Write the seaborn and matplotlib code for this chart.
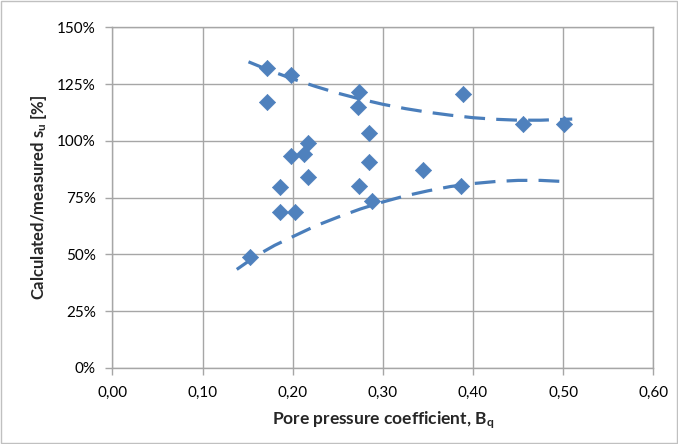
import matplotlib
matplotlib.use("Agg")
import matplotlib.pyplot as plt
import matplotlib.patches as mpatches
from matplotlib.ticker import FixedLocator, FuncFormatter
import seaborn as sns
import pandas as pd

# Measured points: pore pressure coefficient Bq and calculated/measured su [%]
bq = [0.171, 0.198, 0.171, 0.273, 0.272, 0.285, 0.217, 0.198, 0.213, 0.285, 0.217,
      0.186, 0.274, 0.288, 0.186, 0.203, 0.389, 0.455, 0.501, 0.344, 0.387, 0.153]
ratio = [131.9, 129.0, 117.2, 121.6, 114.9, 103.4, 98.9, 93.4, 94.2, 90.7, 84.1,
         79.8, 80.1, 73.6, 68.5, 68.5, 120.5, 107.5, 107.5, 87.0, 80.2, 48.7]

# Upper envelope (dashed)
upper_x = [0.151, 0.175, 0.20, 0.225, 0.25, 0.275, 0.30, 0.325, 0.35, 0.375, 0.40, 0.425, 0.45, 0.475, 0.51]
upper_y = [134.8, 130.9, 127.3, 124.0, 121.0, 118.4, 116.1, 114.2, 112.6, 111.3, 110.2, 109.5, 109.1, 109.1, 109.6]

# Lower envelope (dashed)
lower_x = [0.138, 0.16, 0.18, 0.20, 0.225, 0.25, 0.275, 0.30, 0.325, 0.35, 0.375, 0.40, 0.425, 0.45, 0.475, 0.506]
lower_y = [43.4, 49.5, 54.0, 57.8, 62.5, 66.4, 70.0, 73.1, 75.8, 78.0, 79.9, 81.2, 82.1, 82.6, 82.6, 82.0]

x_ticks = [0.0, 0.1, 0.2, 0.3, 0.4, 0.5, 0.6]
y_ticks = [0, 25, 50, 75, 100, 125, 150]

sns.set_theme(style="white")
plt.rcParams["font.family"] = ["Lato", "DejaVu Sans"]
plt.rcParams["mathtext.fontset"] = "custom"
plt.rcParams["mathtext.rm"] = "Lato:bold"
plt.rcParams["mathtext.default"] = "rm"

fig = plt.figure(figsize=(6.78, 4.44), dpi=100)
ax = fig.add_axes([0.1657, 0.1712, 0.798, 0.7673])

blue = "#4a7ebb"
grid_c = "#a6a6a6"

pts = pd.DataFrame({"bq": bq, "ratio": ratio})
up = pd.DataFrame({"x": upper_x, "y": upper_y})
lo = pd.DataFrame({"x": lower_x, "y": lower_y})

for df in (up, lo):
    sns.lineplot(data=df, x="x", y="y", ax=ax, color=blue, lw=2.3,
                 sort=False, estimator=None, zorder=3)
for line in ax.lines:
    line.set_dashes([6.5, 3.5])

sns.scatterplot(data=pts, x="bq", y="ratio", ax=ax, marker="D", s=68,
                color="#4f81bd", edgecolor="#4f81bd", linewidth=0.5, zorder=4)

ax.set_xlim(0, 0.6)
ax.set_ylim(0, 150)
ax.xaxis.set_major_locator(FixedLocator(x_ticks))
ax.yaxis.set_major_locator(FixedLocator(y_ticks))
ax.xaxis.set_major_formatter(FuncFormatter(lambda v, p: f"{v:.2f}".replace(".", ",")))
ax.yaxis.set_major_formatter(FuncFormatter(lambda v, p: f"{v:.0f}%"))
ax.grid(True, color=grid_c, lw=1)
ax.set_axisbelow(True)
for s in ax.spines.values():
    s.set_color(grid_c)
    s.set_linewidth(1)
ax.tick_params(axis="both", which="major", length=5, width=1, color=grid_c,
               labelsize=11, labelcolor="#000000", direction="out",
               left=True, bottom=True)
ax.tick_params(axis="y", pad=7)
ax.tick_params(axis="x", pad=8)

ax.set_xlabel("Pore pressure coefficient, B$_\\mathregular{q}$", fontsize=12.5,
              fontweight="bold", labelpad=7)
ax.set_ylabel("Calculated/measured s$_\\mathregular{u}$ [%]", fontsize=12,
              fontweight="bold", labelpad=6)

fig.patches.append(mpatches.Rectangle((0.002, 0.003), 0.996, 0.994, transform=fig.transFigure,
                                      fill=False, edgecolor="#c0c0c0", lw=1))

fig.savefig("out.png", dpi=100)
